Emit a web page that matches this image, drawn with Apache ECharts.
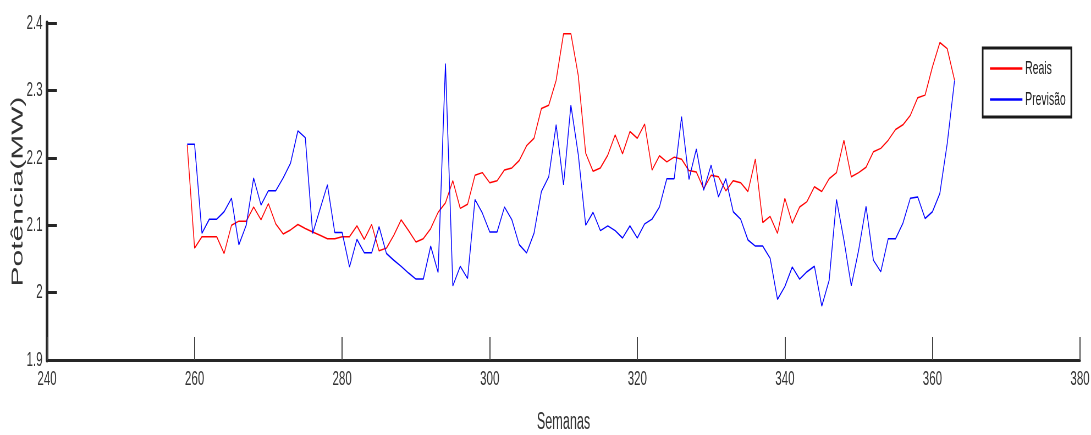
<!DOCTYPE html>
<html>
<head>
<meta charset="utf-8">
<script src="https://cdn.jsdelivr.net/npm/echarts@6/dist/echarts.min.js"></script>
<style>
html,body{margin:0;padding:0;background:#fff;overflow:hidden;width:1091px;height:435px;}
#wrap{width:1091px;height:435px;overflow:hidden;position:relative;}
#chart{width:1984px;height:435px;transform:scaleX(0.5499);transform-origin:0 0;position:absolute;left:0;top:0;}
</style>
</head>
<body>
<div id="wrap"><div id="chart"></div></div>
<script>
const weeks = [259,260,261,262,263,264,265,266,267,268,269,270,271,272,273,274,275,276,277,278,279,280,281,282,283,284,285,286,287,288,289,290,291,292,293,294,295,296,297,298,299,300,301,302,303,304,305,306,307,308,309,310,311,312,313,314,315,316,317,318,319,320,321,322,323,324,325,326,327,328,329,330,331,332,333,334,335,336,337,338,339,340,341,342,343,344,345,346,347,348,349,350,351,352,353,354,355,356,357,358,359,360,361,362,363];

const reais = [2.219,2.066,2.083,2.083,2.083,2.058,2.100,2.106,2.106,2.127,2.108,2.132,2.102,2.087,2.093,2.101,2.095,2.090,2.085,2.080,2.080,2.083,2.083,2.099,2.079,2.101,2.062,2.066,2.085,2.108,2.092,2.075,2.080,2.095,2.119,2.133,2.166,2.125,2.131,2.174,2.178,2.163,2.166,2.182,2.185,2.196,2.218,2.229,2.273,2.278,2.315,2.384,2.384,2.322,2.207,2.180,2.185,2.204,2.234,2.206,2.239,2.229,2.250,2.182,2.203,2.194,2.201,2.198,2.181,2.179,2.154,2.174,2.172,2.151,2.166,2.163,2.150,2.198,2.104,2.113,2.088,2.140,2.103,2.127,2.135,2.157,2.150,2.169,2.178,2.226,2.172,2.178,2.186,2.209,2.214,2.226,2.242,2.249,2.263,2.289,2.293,2.335,2.371,2.362,2.315];

const previsao = [2.220,2.220,2.088,2.109,2.109,2.120,2.140,2.071,2.100,2.170,2.130,2.151,2.151,2.170,2.192,2.240,2.230,2.088,2.124,2.160,2.089,2.089,2.038,2.079,2.059,2.059,2.098,2.058,2.048,2.039,2.029,2.020,2.020,2.069,2.030,2.340,2.010,2.039,2.021,2.138,2.118,2.090,2.090,2.127,2.108,2.071,2.059,2.088,2.150,2.172,2.249,2.160,2.278,2.205,2.100,2.119,2.092,2.099,2.092,2.081,2.099,2.081,2.102,2.109,2.127,2.169,2.169,2.261,2.168,2.213,2.152,2.189,2.142,2.169,2.120,2.109,2.078,2.069,2.069,2.051,1.990,2.009,2.038,2.020,2.031,2.039,1.980,2.018,2.138,2.078,2.010,2.063,2.128,2.048,2.031,2.080,2.080,2.103,2.140,2.142,2.110,2.120,2.147,2.221,2.315];

const seriesNames = ['Reais', 'Previsão'];
const xName = 'Semanas';
const yName = 'Potência(MW)';

const chart = echarts.init(document.getElementById('chart'), null, {renderer: 'canvas'});
const font = 'Liberation Sans, Arial, sans-serif';
chart.setOption({
  animation: false,
  backgroundColor: '#fff',
  textStyle: {fontFamily: font},
  grid: {left: 85.5, right: 20, top: 23, bottom: 75, containLabel: false, outerBoundsMode: 'none'},
  legend: {
    data: seriesNames,
    orient: 'vertical',
    left: 1787, top: 48,
    backgroundColor: '#fff',
    borderColor: '#1a1a1a', borderWidth: 3,
    padding: [11, 10, 8, 12],
    itemWidth: 59, itemHeight: 19, itemGap: 12,
    itemStyle: {opacity: 0},
    lineStyle: {width: 2.5},
    textStyle: {fontSize: 19, color: '#222', fontFamily: font}
  },
  xAxis: {
    type: 'value', min: 240, max: 380, interval: 20,
    name: xName, nameLocation: 'middle', nameGap: 51, nameMoveOverlap: false,
    nameTextStyle: {fontSize: 23, color: '#333', fontFamily: font},
    axisLine: {lineStyle: {color: '#262626', width: 3}},
    axisTick: {inside: true, length: 23, lineStyle: {color: '#444', width: 2}},
    axisLabel: {fontSize: 21, color: '#333', margin: 9, fontFamily: font},
    splitLine: {show: false}
  },
  yAxis: {
    type: 'value', min: 1.9, max: 2.4, interval: 0.1,
    name: yName, nameLocation: 'middle', nameRotate: 90, nameGap: 38, nameMoveOverlap: false,
    nameTextStyle: {fontSize: 30, color: '#333', fontFamily: font},
    axisLine: {show: true, lineStyle: {color: '#262626', width: 5}},
    axisTick: {show: true, inside: true, length: 18, lineStyle: {color: '#262626', width: 3}},
    axisLabel: {fontSize: 21, color: '#333', margin: 8, fontFamily: font},
    splitLine: {show: false}
  },
  series: [
    {name: seriesNames[0], type: 'line', symbol: 'none', color: '#ff0000',
     lineStyle: {width: 1.5, color: '#ff0000'},
     data: weeks.map((w, i) => [w, reais[i]])},
    {name: seriesNames[1], type: 'line', symbol: 'none', color: '#0000ff',
     lineStyle: {width: 1.5, color: '#0000ff'},
     data: weeks.map((w, i) => [w, previsao[i]])}
  ]
});
</script>
</body>
</html>
